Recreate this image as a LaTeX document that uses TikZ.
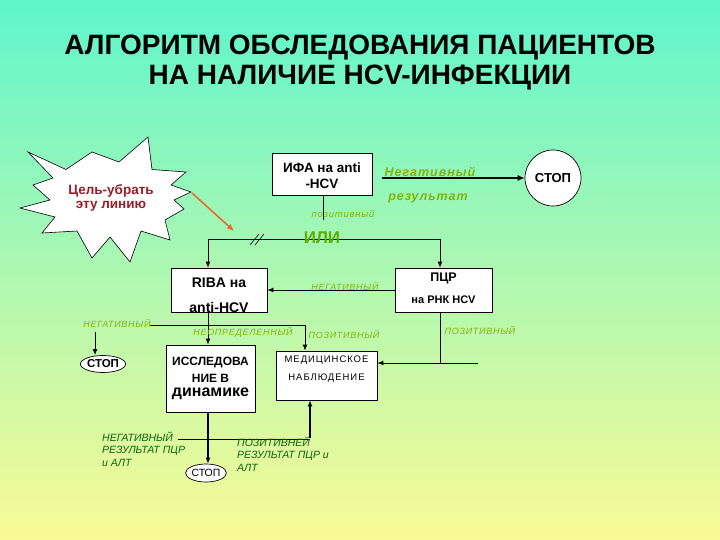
\documentclass[tikz,border=0pt]{standalone}
\usepackage{fontspec}
\setmainfont{Liberation Sans}
\usetikzlibrary{arrows.meta,shapes.geometric}
\definecolor{bgtop}{RGB}{95,245,205}
\definecolor{bgmid}{RGB}{195,245,150}
\definecolor{bgbot}{RGB}{250,250,150}
\definecolor{olivelbl}{RGB}{130,180,10}
\definecolor{orlbl}{RGB}{95,175,0}
\definecolor{dkgreen}{RGB}{10,100,10}
\definecolor{starred}{RGB}{150,30,40}
\definecolor{orangearr}{RGB}{240,100,40}
\tikzset{
  box/.style={draw, fill=white, line width=0.7pt, inner sep=0pt},
  btxt/.style={font=\bfseries\fontsize{13.5}{15}\selectfont, inner sep=0pt},
  lbl/.style={font=\itshape\fontsize{9}{10}\selectfont\addfontfeature{LetterSpace=8}, text=olivelbl, inner sep=0pt},
  biglbl/.style={font=\bfseries\itshape\fontsize{12.5}{14}\selectfont\addfontfeature{LetterSpace=8}, text=olivelbl, inner sep=0pt},
  dklbl/.style={font=\itshape\fontsize{10.5}{12}\selectfont, text=dkgreen, inner sep=0pt, anchor=west},
  conn/.style={line width=1pt, -{Latex[length=6pt,width=5pt]}},
  plain/.style={line width=1pt}
}
\begin{document}
\begin{tikzpicture}[x=1pt,y=-1pt]
\useasboundingbox (0,0) rectangle (720,540);
\shade[top color=bgtop, middle color=bgmid, bottom color=bgbot] (0,0) rectangle (720,540);

% title
\node[font=\bfseries\fontsize{28}{32}\selectfont, inner sep=0] (t1) at (360,48) {АЛГОРИТМ ОБСЛЕДОВАНИЯ ПАЦИЕНТОВ};
\node[font=\bfseries\fontsize{28}{32}\selectfont, inner sep=0] (t2) at (360,78) {НА НАЛИЧИЕ HCV-ИНФЕКЦИИ};

% starburst
\draw[fill=white, line width=0.6pt] (28,152) -- (66,169.5) -- (92,152) -- (119,162) -- (148,137) -- (152,169.5)
  -- (186,172) -- (171,185) -- (191,192) -- (174,200) -- (184,209) -- (165,220) -- (170,240)
  -- (141,231) -- (130,262) -- (110,237) -- (92,258) -- (77,231) -- (42,233) -- (55,217)
  -- (20,208) -- (50,200) -- (33,185) -- (53,178) -- cycle;
\node[font=\bfseries\fontsize{13.5}{15}\selectfont, text=starred, inner sep=0] (star1) at (111,191) {Цель-убрать};
\node[font=\bfseries\fontsize{13.5}{15}\selectfont, text=starred, inner sep=0] (star2) at (111,206) {эту линию};

% orange arrow
\coordinate (o1) at (192,193);
\coordinate (o2) at (234,231);
\draw[orangearr, line width=1.5pt, -{Latex[length=7pt,width=6pt]}] (o1) -- (o2);

% boxes
\node[box, minimum width=100pt, minimum height=42pt] (ifa) at (322,174.5) {};
\node[btxt] (ifa1) at (322,168) {ИФА на anti};
\node[btxt] (ifa2) at (322,184) {-HCV};
\node[box, minimum width=96pt, minimum height=44pt] (riba) at (219,290) {};
\node[font=\bfseries\fontsize{14}{16}\selectfont, inner sep=0] (riba1) at (219,283) {RIBA на};
\node[font=\bfseries\fontsize{14}{16}\selectfont, inner sep=0] (riba2) at (219,307) {anti-HCV};
\node[box, minimum width=97pt, minimum height=44pt] (pcr) at (443.5,290) {};
\node[font=\bfseries\fontsize{12.5}{14}\selectfont, inner sep=0] (pcr1) at (443.5,278) {ПЦР};
\node[font=\bfseries\fontsize{11}{13}\selectfont, inner sep=0] (pcr2) at (443.5,300) {на РНК HCV};
\node[box, minimum width=89pt, minimum height=67pt] (issl) at (210.5,378.5) {};
\node[font=\bfseries\fontsize{12}{14}\selectfont, inner sep=0] (issl1) at (210.5,363) {ИССЛЕДОВА};
\node[font=\bfseries\fontsize{12}{14}\selectfont, inner sep=0] (issl2) at (210.5,378) {НИЕ В};
\node[font=\bfseries\fontsize{16}{18}\selectfont, inner sep=0] (issl3) at (210.5,394) {динамике};
\node[box, minimum width=101pt, minimum height=49pt] (med) at (326.5,375.5) {};
\node[font=\fontsize{9.5}{11}\selectfont\addfontfeature{LetterSpace=10}, inner sep=0] (med1) at (326.5,360) {МЕДИЦИНСКОЕ};
\node[font=\fontsize{9.5}{11}\selectfont\addfontfeature{LetterSpace=10}, inner sep=0] (med2) at (326.5,378) {НАБЛЮДЕНИЕ};

% stops
\node[circle, draw, fill=white, line width=0.7pt, minimum size=56pt, inner sep=0, font=\bfseries\fontsize{13}{15}\selectfont] (stop1) at (553,178) {СТОП};
\node[ellipse, draw, fill=white, line width=0.7pt, minimum width=40pt, minimum height=17pt, inner sep=0, font=\bfseries\fontsize{11.5}{13}\selectfont] (stopL) at (103,364) {СТОП};
\node[ellipse, draw, fill=white, line width=0.7pt, minimum width=40pt, minimum height=18pt, inner sep=0, font=\fontsize{10.5}{12}\selectfont] (stop2) at (206,473) {СТОП};

% connectors
\draw[line width=1.3pt, -{Latex[length=7pt,width=6pt]}] ([xshift=10pt]ifa.east |- stop1.west) -- (stop1.west);
\node[biglbl] (neg1) at (430,172) {Негативный};
\node[biglbl] (res1) at (428,198) {результат};

\coordinate (pz) at (323,220);
\draw[plain] (ifa.south -| pz) -- (pz);
\node[lbl, font=\itshape\fontsize{9.5}{11}\selectfont\addfontfeature{LetterSpace=8}] (poz1) at (343,214) {позитивный};

\coordinate (orL) at (208,239);
\coordinate (orR) at (440,239);
\draw[plain] (orL) -- (orR);
\node[font=\bfseries\fontsize{17}{19}\selectfont, text=orlbl, inner sep=0] (ili) at (322,238) {ИЛИ};
\draw[line width=0.6pt] (250,245) -- (259,234) (255,245) -- (264,234);
\draw[conn] (orL) -- (orL |- riba.north);
\draw[conn] (orR) -- (orR |- pcr.north);

\draw[conn] (pcr.west) -- (riba.east);
\node[lbl] (neg2) at (345,286) {НЕГАТИВНЫЙ};

\draw[conn] (orL |- riba.south) -- (orL |- issl.north);
\node[lbl] (neop) at (243,332) {НЕОПРЕДЕЛЕННЫЙ};

\coordinate (nl) at (150,325);
\coordinate (nr) at (305,325);
\draw[conn] (nl) -- (nr) -- (nr |- med.north);
\node[lbl] (neg3) at (117,323) {НЕГАТИВНЫЙ};
\node[lbl] (poz2) at (344,334) {ПОЗИТИВНЫЙ};

\coordinate (ls) at (95,332);
\draw[conn] (ls) -- (ls |- stopL.north);

\coordinate (pj) at (440,363);
\coordinate (pe) at (478,363);
\draw[plain] (orR |- pcr.south) -- (pj);
\draw[conn] (pe) -- (pe -| med.east);
\node[lbl] (poz3) at (480,330) {ПОЗИТИВНЫЙ};

\draw[line width=1.6pt, -{Latex[length=6pt,width=5pt]}] (orL |- issl.south) -- (orL |- stop2.north);

\coordinate (bl) at (178,439);
\coordinate (br) at (310,439);
\draw[plain] (bl) -- (br);
\draw[line width=1.6pt, -{Latex[length=6pt,width=5pt]}] ([yshift=1pt]br) -- (br |- med.south);

\node[dklbl, align=left] (negres) at (102,449) {НЕГАТИВНЫЙ\\[0.5pt]РЕЗУЛЬТАТ ПЦР\\[0.5pt]и АЛТ};
\node[dklbl, align=left] (pozres) at (237,454) {ПОЗИТИВНЕЙ\\[0.5pt]РЕЗУЛЬТАТ ПЦР и\\[0.5pt]АЛТ};
\end{tikzpicture}
\end{document}
